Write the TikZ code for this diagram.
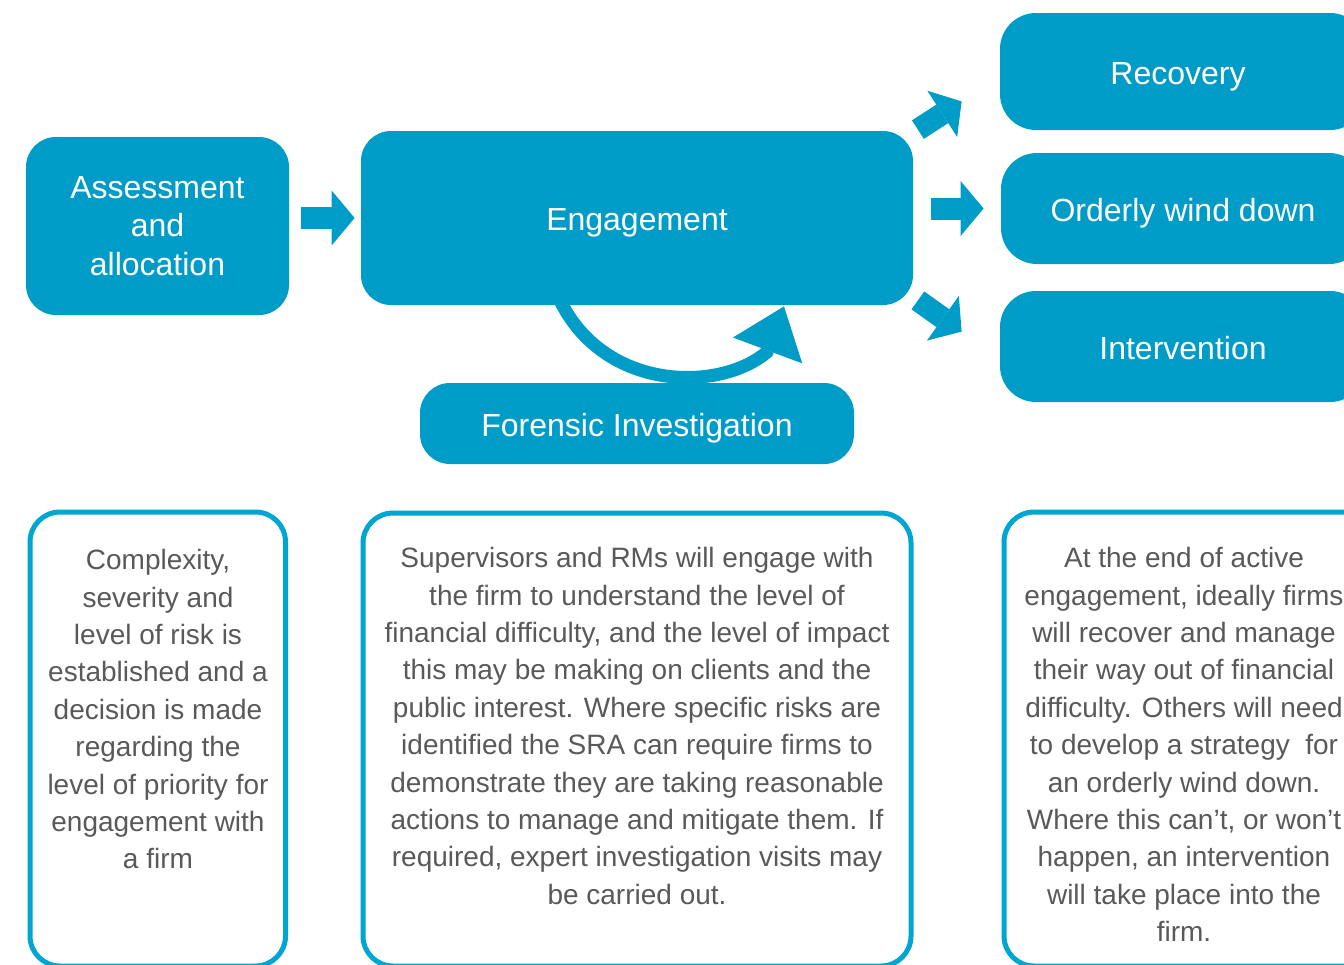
\documentclass[tikz,border=0pt]{standalone}
\usepackage{fontspec}
\setmainfont{Liberation Sans}
\usetikzlibrary{arrows.meta,calc}
\definecolor{sraBlue}{HTML}{009CC8}
\definecolor{sraLine}{HTML}{00A6D2}
\definecolor{bodyGrey}{HTML}{595959}

\begin{document}
\begin{tikzpicture}[x=0.5pt,y=-0.5pt,
  stage/.style={rectangle, rounded corners=15pt, fill=sraBlue, text=white,
    inner sep=0pt, align=center, font=\fontsize{16}{19.25}\selectfont},
  oneline/.style={text height=12.5pt, text depth=0pt},
  note/.style={rectangle, rounded corners=15pt, draw=sraLine, line width=2.5pt,
    inner sep=0pt},
  notetext/.style={anchor=north, align=center, inner sep=0pt, text=bodyGrey,
    font=\fontsize{14}{18.7}\selectfont},
  blockarrow/.style={color=sraBlue, line width=11pt,
    -{Triangle[width=27.5pt,length=11.5pt,line width=0pt]}},
  loopback/.style={color=sraBlue, line width=6.5pt,
    -{Triangle[width=37pt,length=23.5pt,line width=0pt]}},
]
\useasboundingbox (0,0) rectangle (1344,964);
\fill[white] (0,0) rectangle (1344,964);
\clip (0,0) rectangle (1344,964);

% process stages
\node[stage, minimum width=131.5pt, minimum height=89pt] (assess) at (157.5,226)
  {Assessment\\and\\allocation};
\node[stage, oneline, minimum width=276pt, minimum height=87pt] (engage) at (637,218)
  {Engagement};
\node[stage, oneline, minimum width=217pt, minimum height=40.5pt] (forensic) at (637,423.5)
  {Forensic Investigation};
\node[stage, oneline, rounded corners=18pt, minimum width=183pt, minimum height=58.5pt]
  (recovery) at (1183,71.5) {\hspace*{-5pt}Recovery};
\node[stage, oneline, rounded corners=18pt, minimum width=182pt, minimum height=55.5pt]
  (winddown) at (1183,208.5) {Orderly wind down};
\node[stage, oneline, rounded corners=18pt, minimum width=183pt, minimum height=55.5pt]
  (intervene) at (1183,346.5) {Intervention};

% flow arrows
\draw[blockarrow] ([xshift=6pt]assess.east |- engage.west) -- ([xshift=-3pt]engage.west);
\draw[blockarrow] ([xshift=9pt]engage.east |- winddown.west) -- ([xshift=-8.5pt]winddown.west);
\draw[blockarrow] ($(engage.north east)+(4.5,-1)$) -- ($(recovery.south west)+(-38,-29)$);
\draw[blockarrow] ($(engage.south east)+(4.5,-5)$) -- ($(intervene.north west)+(-38,41)$);
\draw[loopback] ($(engage.south)+(-77,-5)$) .. controls (605,392) and (720,392) .. (767,352)
  -- ($(engage.south)+(147,1)$);

% description panels
\node[note, minimum width=127.75pt, minimum height=227pt] (assessnote) at (157.75,739) {};
\node[note, minimum width=274pt, minimum height=226.5pt] (engagenote) at (637,739.5) {};
\node[note, minimum width=190pt, minimum height=227pt] (outcomenote) at (1194,739) {};

\node[notetext] (assesstext) at (158,549)
  {Complexity,\\severity and\\level of risk is\\established and a\\decision is made\\regarding the\\level of priority for\\engagement with\\a firm};
\node[notetext] (engagetext) at (637,547)
  {Supervisors and RMs will engage with\\the firm to understand the level of\\financial difficulty, and the level of impact\\this may be making on clients and the\\public interest. Where specific risks are\\identified the SRA can require firms to\\demonstrate they are taking reasonable\\actions to manage and mitigate them. If\\required, expert investigation visits may\\be carried out.};
\node[notetext] (outcometext) at (1184,547)
  {At the end of active\\engagement, ideally firms\\will recover and manage\\their way out of financial\\difficulty. Others will need\\to develop a strategy\ \ for\\an orderly wind down.\\Where this can’t, or won’t\\happen, an intervention\\will take place into the\\firm.};
\end{tikzpicture}
\end{document}
